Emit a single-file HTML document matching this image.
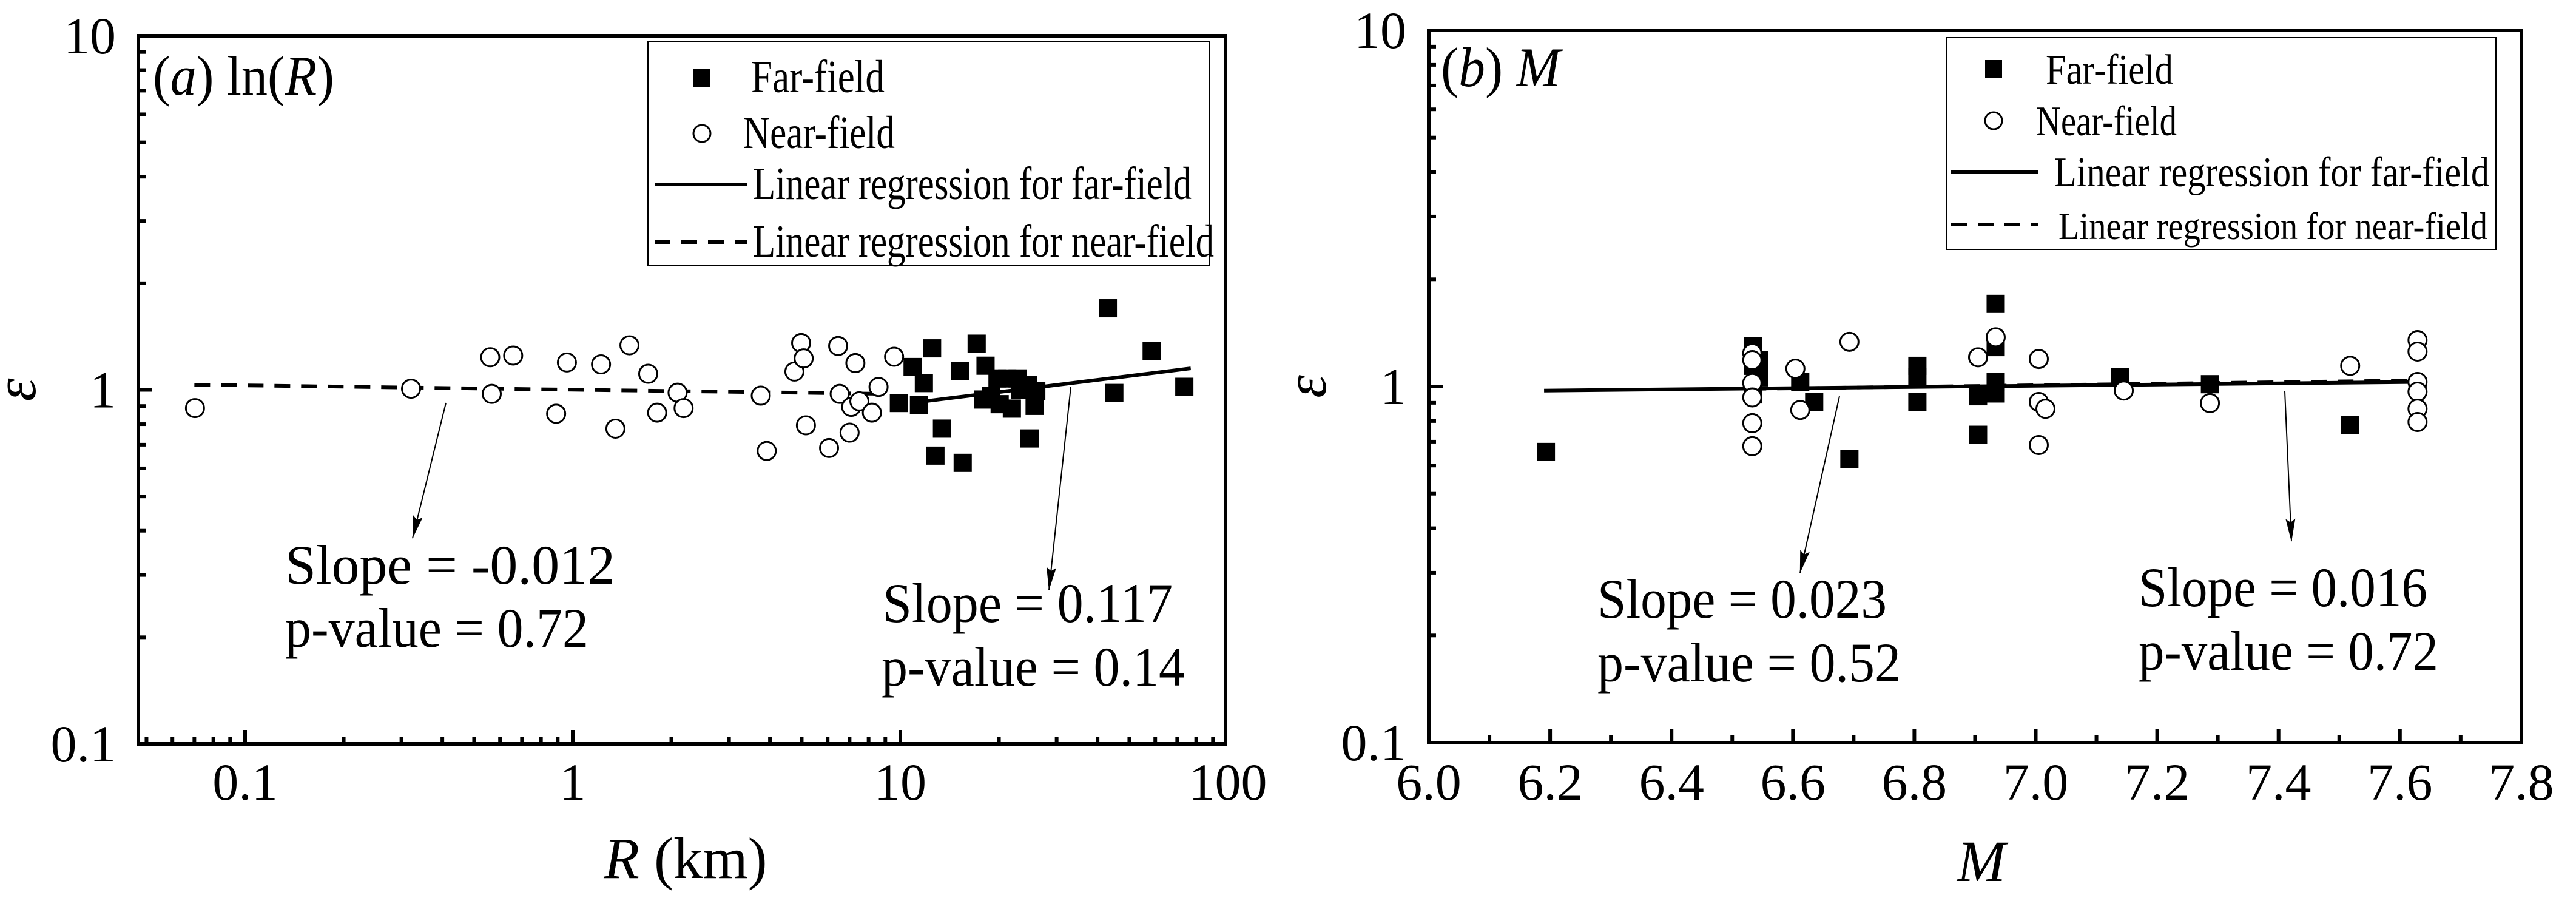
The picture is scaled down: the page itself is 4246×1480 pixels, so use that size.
<!DOCTYPE html>
<html><head><meta charset="utf-8"><style>
html,body{margin:0;padding:0;background:#fff}
svg{display:block}
svg, svg text{font-family:"Liberation Serif","DejaVu Serif","Times New Roman",serif;fill:#000}
</style></head><body>
<svg id="chart" xmlns="http://www.w3.org/2000/svg" width="4246" height="1480" viewBox="0 0 4246 1480">
<defs><marker id="ah" markerWidth="38" markerHeight="16" refX="37" refY="8" orient="auto" markerUnits="userSpaceOnUse" viewBox="0 0 38 16"><path d="M0,0 L38,8 L0,16 L6,8 Z" fill="#000"/></marker></defs>
<g id="pa"></g>
<g id="pb"></g>
</svg>
<script>
// Panel (a) data
const aFarR = [9.9,10.9,11.4,11.8,12.5,12.8,13.4,15.2,15.5,17.1,17.9,18.2,18.9,19.8,20.1,21.2,21.9,22.8,23.2,24.5,24.8,25.7,26.0,43,45,58.5,73.6];
const aFarE = [0.918,1.16,0.905,1.045,1.31,0.652,0.777,1.13,0.622,1.35,0.939,1.17,0.963,1.077,0.911,1.077,0.885,1.077,1.0,1.03,0.729,0.901,0.993,1.70,0.98,1.287,1.02];
const aNearR = [0.0703,0.321,0.56,0.566,0.658,0.89,0.96,1.22,1.35,1.49,1.70,1.81,2.09,2.18,3.75,3.91,4.75,4.98,5.07,5.15,6.06,6.46,6.53,7.0,7.08,7.29,7.5,8.19,8.58,9.57];
const aNearE = [0.888,1.0075,1.236,0.974,1.25,0.856,1.195,1.18,0.777,1.336,1.11,0.862,0.982,0.888,0.963,0.672,1.126,1.356,1.227,0.794,0.685,1.33,0.974,0.757,0.895,1.19,0.928,0.862,1.019,1.24];
const aFarFitR = [11.6,77]; const aFarFitE = [0.926,1.15];
const aNearFitR = [0.07,8.5]; const aNearFitE = [1.034,0.975];
const aXTicks = [0.1,1,10,100]; const aXTickLabels = ["0.1","1","10","100"];
// Panel (b) data
const bFarM = [6.193,6.534,6.534,6.544,6.544,6.534,6.612,6.635,6.693,6.805,6.805,6.805,6.905,6.905,6.934,6.934,6.934,6.934,7.139,7.287,7.518,7.629];
const bFarE = [0.655,1.30,1.143,1.186,1.061,0.95,1.03,0.905,0.627,1.143,1.061,0.905,0.939,0.732,1.706,1.29,1.03,0.956,1.061,1.015,0.78,1.004];
const bNearM = [6.533,6.533,6.533,6.533,6.533,6.533,6.604,6.612,6.693,6.905,6.934,7.005,7.005,7.005,7.016,7.145,7.287,7.518,7.629,7.629,7.629,7.629,7.629,7.629];
const bNearE = [1.24,1.186,1.023,0.932,0.789,0.68,1.122,0.859,1.335,1.208,1.375,1.195,0.905,0.685,0.866,0.974,0.898,1.143,1.35,1.253,1.03,0.967,0.866,0.795];
const bFarFitM = [6.19,7.63]; const bFarFitE = [0.974,1.03];
const bNearFitM = [6.53,7.63]; const bNearFitE = [0.985,1.04];
const bXTicks = [6.0,6.2,6.4,6.6,6.8,7.0,7.2,7.4,7.6,7.8];
const bXTickLabels = ["6.0","6.2","6.4","6.6","6.8","7.0","7.2","7.4","7.6","7.8"];
const yTicks = [0.1,1,10]; const yTickLabels = ["0.1","1","10"];

const NS="http://www.w3.org/2000/svg";
function mk(parent,tag,attrs,txt){const e=document.createElementNS(NS,tag);for(const k in attrs)e.setAttribute(k,attrs[k]);if(txt!==undefined)e.textContent=txt;parent.appendChild(e);return e;}

function panel(g,cfg){
  const {L,R,T,B,xs}=cfg;
  const ys=v=>B-(B-T)*(Math.log10(v)+1)/2;
  const fr=mk(g,'rect',{x:L,y:T,width:R-L,height:B-T,fill:'none',stroke:'#000','stroke-width':6});
  
  
  for(let d=-1;d<=0;d++){for(let m=1;m<=9;m++){const v=m*Math.pow(10,d);const y=ys(v);const len=m===1?23:12;
    const t=mk(g,'line',{x1:L,x2:L+len,y1:y,y2:y,stroke:'#000','stroke-width':6});
    
    }}
  yTicks.forEach((v,i)=>{const t=mk(g,'text',{x:L-37,y:ys(v)+29,'font-size':86,'text-anchor':'end'},yTickLabels[i]);
    
    });
  cfg.xticks(g,xs);
  const yt=mk(g,'text',{x:0,y:0,'font-size':96,'font-style':'italic','text-anchor':'middle',transform:`translate(${L-170},${(T+B)/2}) rotate(-90)`},'ε');
  
  
  return ys;
}
function fitLine(g,xs,ys,X,Y,dash,name){
  const l=mk(g,'line',{x1:xs(X[0]),y1:ys(Y[0]),x2:xs(X[1]),y2:ys(Y[1]),stroke:'#000','stroke-width':6});
  if(dash)l.setAttribute('stroke-dasharray','26,18');
  
  
}
function points(g,xs,ys,X,Y,sq,name){
  X.forEach((x,i)=>{let e;
    if(sq)e=mk(g,'rect',{x:xs(x)-15,y:ys(Y[i])-15,width:30,height:30,fill:'#000'});
    else e=mk(g,'circle',{cx:xs(x),cy:ys(Y[i]),r:15,fill:'#fff',stroke:'#000','stroke-width':3});
    
    });
}
function txt(g,x,y,s,size,name,len,extra){const t=mk(g,'text',Object.assign({x:x,y:y,'font-size':size},extra||{}),undefined);
  if(len){t.setAttribute('textLength',len);t.setAttribute('lengthAdjust','spacingAndGlyphs');}
  t.innerHTML=s;
  
  return t;}
function legend(g,b){
  const r=mk(g,'rect',{x:b.x,y:b.y,width:b.w,height:b.h,fill:'#fff',stroke:'#000','stroke-width':2});
  
  
  const s=mk(g,'rect',{x:b.mx-14,y:b.r1-15,width:28,height:30,fill:'#000'});
  
  
  txt(g,b.t1,b.r1+24,'Far-field',b.fs,'legend-far-label',b.w1);
  const c=mk(g,'circle',{cx:b.mx,cy:b.r2,r:14,fill:'#fff',stroke:'#000','stroke-width':3});
  
  
  txt(g,b.t2,b.r2+24,'Near-field',b.fs,'legend-near-label',b.w2);
  const l1=mk(g,'line',{x1:b.lx1,x2:b.lx2,y1:b.r3,y2:b.r3,stroke:'#000','stroke-width':6});
  
  
  txt(g,b.t3,b.r3+24,'Linear regression for far-field',b.fs,'legend-far-fit-label',b.w3);
  const l2=mk(g,'line',{x1:b.lx1,x2:b.lx2,y1:b.r4,y2:b.r4,stroke:'#000','stroke-width':6,'stroke-dasharray':'26,18'});
  
  
  txt(g,b.t4,b.r4+24,'Linear regression for near-field',b.fs4||b.fs,'legend-near-fit-label',b.w4);
}
function arrow(g,x1,y1,x2,y2,name){const a=mk(g,'line',{x1,y1,x2,y2,stroke:'#000','stroke-width':2,'marker-end':'url(#ah)'});
  
  }

// ---- Panel a ----
const ga=document.getElementById('pa');
const aL=228,aR=2020,aT=59,aB=1226;
const xsA=v=>404+540*(Math.log10(v)+1);
const ysA=panel(ga,{L:aL,R:aR,T:aT,B:aB,xs:xsA,xticks:(g,xs)=>{
  for(let d=-2;d<=1;d++)for(let m=1;m<=9;m++){const v=m*Math.pow(10,d);const x=xs(v);if(x<aL+4||x>aR-2)continue;
    const t=mk(g,'line',{x1:x,x2:x,y1:aB,y2:aB-(m===1?23:12),stroke:'#000','stroke-width':6});
    
    }
  aXTicks.forEach((v,i)=>{const t=mk(g,'text',{x:xs(v),y:1318,'font-size':86,'text-anchor':'middle'},aXTickLabels[i]);
    
    });
}});
fitLine(ga,xsA,ysA,aNearFitR,aNearFitE,true,'near-field-fit-line');
fitLine(ga,xsA,ysA,aFarFitR,aFarFitE,false,'far-field-fit-line');
points(ga,xsA,ysA,aNearR,aNearE,false,'near-field-point');
points(ga,xsA,ysA,aFarR,aFarE,true,'far-field-point');
legend(ga,{x:1068,y:69,w:925,h:369,mx:1157,fs:76,r1:128,t1:1238,w1:220,r2:220,t2:1225,w2:250,lx1:1079,lx2:1232,r3:304,t3:1241,w3:723,r4:399,t4:1241,w4:760});
txt(ga,252,156,'(<tspan font-style="italic">a</tspan>) ln(<tspan font-style="italic">R</tspan>)',92,'panel-a-title',299);
txt(ga,470,962,'Slope =  -0.012',92,'near-slope-annotation',544);
txt(ga,470,1066,'p-value = 0.72',92,'near-pvalue-annotation',500);
txt(ga,1455,1025,'Slope = 0.117',92,'far-slope-annotation',478);
txt(ga,1453,1130,'p-value = 0.14',92,'far-pvalue-annotation',500);
arrow(ga,735,664,680,887,'near-annotation-arrow');
arrow(ga,1765,638,1729,972,'far-annotation-arrow');
txt(ga,1130,1447,'<tspan font-style="italic">R</tspan> (km)',96,'x-axis-title',null,{'text-anchor':'middle'});

// ---- Panel b ----
const gb=document.getElementById('pb');
const bL=2355,bR=4156,bT=50,bB=1224;
const xsB=v=>bL+(v-6)*1000.5;
const ysB=panel(gb,{L:bL,R:bR,T:bT,B:bB,xs:xsB,xticks:(g,xs)=>{
  for(let k=1;k<18;k++){const v=6+k*0.1;const x=xs(v);
    const t=mk(g,'line',{x1:x,x2:x,y1:bB,y2:bB-(k%2===0?23:12),stroke:'#000','stroke-width':6});
    
    }
  bXTicks.forEach((v,i)=>{const t=mk(g,'text',{x:xs(v),y:1318,'font-size':86,'text-anchor':'middle'},bXTickLabels[i]);
    
    });
}});
fitLine(gb,xsB,ysB,bNearFitM,bNearFitE,true,'near-field-fit-line');
fitLine(gb,xsB,ysB,bFarFitM,bFarFitE,false,'far-field-fit-line');
points(gb,xsB,ysB,bFarM,bFarE,true,'far-field-point');
points(gb,xsB,ysB,bNearM,bNearE,false,'near-field-point');
legend(gb,{x:3209,y:62,w:905,h:349,mx:3286,fs:70,r1:114,t1:3372,w1:210,r2:199,t2:3356,w2:232,lx1:3216,lx2:3359,r3:283,t3:3386,w3:717,r4:370,t4:3393,w4:707,fs4:64});
txt(gb,2375,142,'(<tspan font-style="italic">b</tspan>) <tspan font-style="italic">M</tspan>',92,'panel-b-title',197);
txt(gb,2633,1018,'Slope = 0.023',92,'far-slope-annotation',477);
txt(gb,2633,1123,'p-value = 0.52',92,'far-pvalue-annotation',500);
txt(gb,3525,999,'Slope = 0.016',92,'near-slope-annotation',476);
txt(gb,3525,1104,'p-value = 0.72',92,'near-pvalue-annotation',494);
arrow(gb,3032,653,2967,944,'far-annotation-arrow');
arrow(gb,3766,645,3777,892,'near-annotation-arrow');
txt(gb,3266,1452,'M',96,'x-axis-title',null,{'text-anchor':'middle','font-style':'italic'});
</script>
</body></html>
